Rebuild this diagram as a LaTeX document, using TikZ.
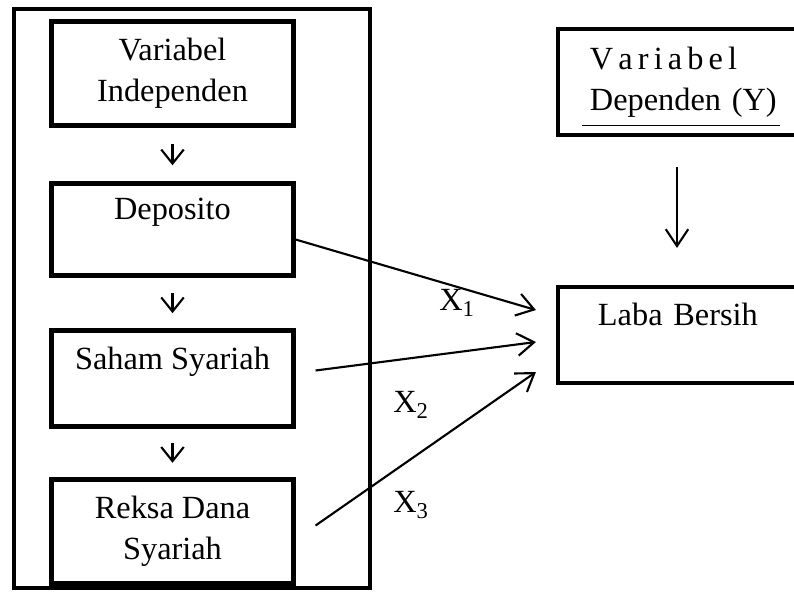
\documentclass[tikz,border=0pt]{standalone}
\usepackage{fontspec}
\setmainfont{Liberation Serif}
\usetikzlibrary{calc,arrows.meta}

\begin{document}
\begin{tikzpicture}[x=0.025cm,y=-0.025cm,font=\fontsize{23}{29}\selectfont]
        \tikzstyle{box}=[draw,line width=2.9pt,rectangle,inner sep=0pt,align=center]
        \tikzstyle{arr}=[-{Straight Barb[length=12pt,width=16pt]},line width=1.5pt]
        \tikzstyle{downarr}=[-{Straight Barb[length=10pt,width=16pt]},line width=1.5pt]
            \path[use as bounding box,clip] (0,0) rectangle (794,594);

            \node[box,minimum width=8.9cm,minimum height=14.475cm] (frame) at (192,298.5) {};

            \node[box,minimum width=6.05cm,minimum height=2.6cm] (ind) at (172.5,73.5) {Variabel\\Independen};
            \node[box,minimum width=6.05cm,minimum height=2.3cm] (dep) at ($(ind)+(0,156)$) {Deposito\\\mbox{}};
            \node[box,minimum width=6.05cm,minimum height=2.4cm] (sah) at ($(dep)+(0,149)$) {Saham Syariah\\\mbox{}};
            \node[box,minimum width=6.05cm,minimum height=2.6cm] (rek) at ($(sah)+(0,153)$) {Reksa Dana\\Syariah};

            \node[box,minimum width=6.6cm,minimum height=2.65cm,align=left,text width=5cm] (dpn) at (690,82) {\makebox[3.675cm][s]{V\hfil a\hfil r\hfil i\hfil a\hfil b\hfil e\hfil l}\\Dependen (Y)};
            \node[box,minimum width=6.6cm,minimum height=2.4cm,align=left,text width=4.6cm] (laba) at ($(dpn)+(0,253)$) {Laba Bersih\\\mbox{}};

            \node (x1) at (457,303) {X\textsubscript{1}};
            \node (x2) at (411,405) {X\textsubscript{2}};
            \node (x3) at (411,505) {X\textsubscript{3}};

            \draw[line width=0.7pt] ($(dpn)+(-108,43)$) -- ($(dpn)+(90,43)$);

            \draw[downarr] ($(ind.south)!0.3!(dep.north)$) -- ($(ind.south)!0.7!(dep.north)$);
            \draw[downarr] ($(dep.south)!0.3!(sah.north)$) -- ($(dep.south)!0.7!(sah.north)$);
            \draw[downarr] ($(sah.south)!0.3!(rek.north)$) -- ($(sah.south)!0.7!(rek.north)$);

            \draw[arr] ($(dpn.south)+(-13,30)$) -- ($(laba.north)+(-13,-37)$);

            \draw[arr] ($(dep.east)+(0,10)$) -- ($(laba.west)+(-20,-25)$);
            \draw[arr] ($(sah.east)+(20,-8)$) -- ($(laba.west)+(-20,7)$);
            \draw[arr] ($(rek.east)+(20,-6)$) -- ($(laba.west)+(-20,37)$);

        \end{tikzpicture}
\end{document}
